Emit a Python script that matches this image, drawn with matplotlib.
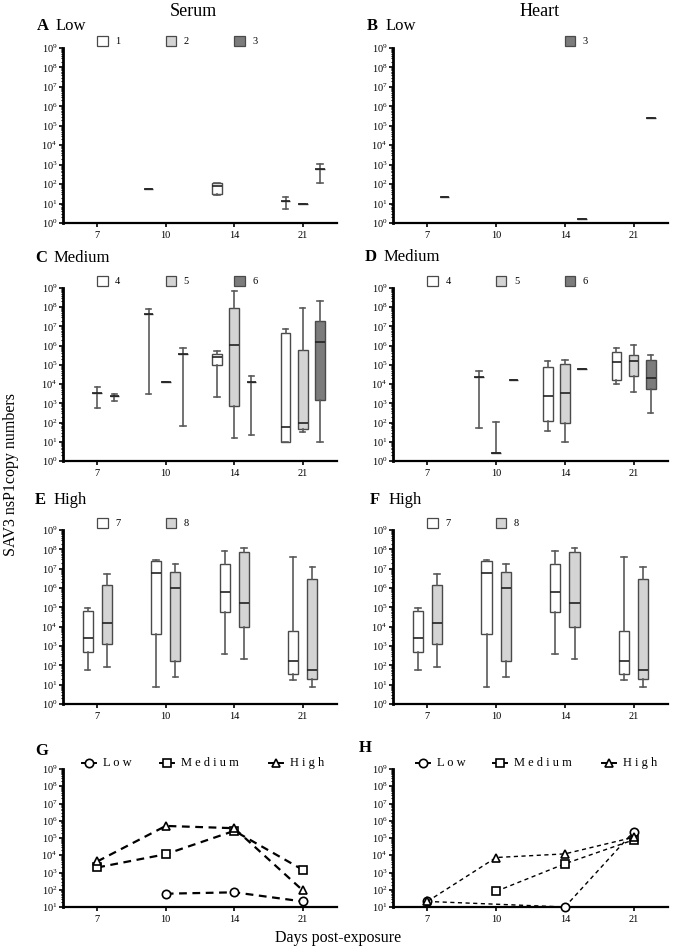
import numpy as np
import matplotlib
matplotlib.use("Agg")
import matplotlib.pyplot as plt
import matplotlib.transforms as mtransforms
from matplotlib.patches import Rectangle
from matplotlib.ticker import LogLocator, NullFormatter

plt.rcParams["font.family"] = ["Liberation Serif", "DejaVu Serif"]
plt.rcParams["mathtext.fontset"] = "stix"

days = ["7", "10", "14", "21"]

# box stats per group: (day index, whisker low, q1, median, q3, whisker high)
serum_low_1 = [(1, 59, 59, 59, 59, 59), (2, 26, 30, 81, 120, 120), (3, 5.5, 13, 13, 13, 22)]
serum_low_2 = [(3, 9.2, 9.2, 9.2, 9.2, 9.2)]
serum_low_3 = [(3, 117, 590, 590, 590, 1070)]

heart_low_3 = [(0, 21, 21, 21, 21, 21), (2, 1.7, 1.7, 1.7, 1.7, 1.7), (3, 2.4e5, 2.4e5, 2.4e5, 2.4e5, 2.4e5)]

serum_med_4 = [(1, 3040, 4.2e7, 4.2e7, 4.2e7, 8.3e7), (2, 2130, 9.4e4, 2.6e5, 3.8e5, 5.2e5),
               (3, 10, 10, 59, 4.7e6, 7e6)]
serum_med_5 = [(0, 570, 3560, 3560, 3560, 7000), (1, 1.3e4, 1.3e4, 1.3e4, 1.3e4, 1.3e4),
               (2, 15, 720, 1.1e6, 9e7, 7.4e8), (3, 31, 46, 98, 5.7e5, 9e7)]
serum_med_6 = [(0, 1320, 2400, 2400, 2400, 3040), (1, 63, 3.8e5, 3.8e5, 3.8e5, 7.8e5),
               (2, 23, 1.3e4, 1.3e4, 1.3e4, 2.5e4), (3, 9.3, 1550, 1.5e6, 2e7, 2.1e8)]

heart_med_4 = [(1, 50, 2.4e4, 2.4e4, 2.4e4, 4.6e4), (2, 36, 114, 2300, 7.4e4, 1.6e5),
               (3, 1.07e4, 1.7e4, 1.45e5, 4.6e5, 7.4e5)]
heart_med_5 = [(1, 2.7, 2.7, 2.7, 2.7, 102), (2, 10, 94, 3300, 1.1e5, 1.85e5),
               (3, 3700, 2.5e4, 1.6e5, 3.1e5, 1.05e6)]
heart_med_6 = [(1, 1.6e4, 1.6e4, 1.6e4, 1.6e4, 1.6e4), (2, 5.9e4, 5.9e4, 5.9e4, 5.9e4, 5.9e4),
               (3, 310, 5900, 2.2e4, 1.8e5, 3.2e5)]

serum_high_7 = [(0, 55, 510, 2700, 6.7e4, 9.6e4), (1, 7.3, 4000, 5.7e6, 2.6e7, 2.8e7),
                (2, 385, 5.5e4, 6.4e5, 1.8e7, 8.2e7), (3, 17, 34, 175, 5700, 4.2e7)]
serum_high_8 = [(0, 85, 1270, 1.5e4, 1.4e6, 5.3e6), (1, 25, 175, 1.05e6, 7e6, 1.7e7),
                (2, 210, 9300, 1.6e5, 7.3e7, 1.2e8), (3, 7.3, 19, 57, 2.9e6, 1.2e7)]
heart_high_7 = [(0, 55, 510, 2700, 6.7e4, 9.6e4), (1, 7.3, 4000, 5.7e6, 2.6e7, 2.8e7),
                (2, 385, 5.5e4, 6.4e5, 1.8e7, 8.2e7), (3, 17, 34, 175, 5700, 4.2e7)]
heart_high_8 = [(0, 85, 1270, 1.5e4, 1.4e6, 5.3e6), (1, 25, 175, 1.05e6, 7e6, 1.7e7),
                (2, 210, 9300, 1.6e5, 7.3e7, 1.2e8), (3, 7.3, 19, 57, 2.9e6, 1.2e7)]

# group means per day (nan = no value)
serum_mean_low = [np.nan, 59, 71, 21]
serum_mean_medium = [1950, 1.15e4, 2.6e5, 1440]
serum_mean_high = [4370, 5e5, 3.7e5, 92]
heart_mean_low = [21, np.nan, 10, 2.35e5]
heart_mean_medium = [np.nan, 81, 3200, 7.8e4]
heart_mean_high = [21, 7400, 1.2e4, 1.1e5]

group_colors = ["white", "#d4d4d4", "#7c7c7c"]
edge = "#4a4a4a"

W, H = 677, 950
fig = plt.figure(figsize=(W / 100, H / 100), dpi=100)


def px_axes(left, top, right, bottom):
    return fig.add_axes([left / W, 1 - bottom / H, (right - left) / W, (bottom - top) / H])


def style_axes(ax, ymin, ymax):
    ax.set_yscale("log")
    ax.set_ylim(ymin, ymax)
    ax.set_xlim(-0.5, 3.5)
    ax.set_xticks(range(len(days)))
    ax.set_xticklabels(days)
    ax.yaxis.set_major_locator(LogLocator(base=10, numticks=12))
    ax.yaxis.set_minor_locator(LogLocator(base=10, subs=np.arange(2, 10), numticks=12))
    ax.yaxis.set_minor_formatter(NullFormatter())
    for s in ("top", "right"):
        ax.spines[s].set_visible(False)
    ax.spines["left"].set_linewidth(2.0)
    ax.spines["bottom"].set_linewidth(1.6)
    ax.tick_params(axis="y", which="major", length=3, width=1.2, labelsize=7.5, pad=1)
    ax.tick_params(axis="y", which="minor", length=1.5, width=0.8)
    ax.tick_params(axis="x", length=3, width=1.2, labelsize=7.5, pad=3)
    ax.set_facecolor("none")


def draw_groups(ax, groups, offsets, width, legend_slots):
    for gi, (data, off) in enumerate(zip(groups, offsets)):
        if data is None:
            continue
        color = group_colors[gi]
        stats = [dict(whislo=d[1], q1=d[2], med=d[3], q3=d[4], whishi=d[5], fliers=[]) for d in data]
        pos = [d[0] + off for d in data]
        ax.bxp(stats, positions=pos, widths=width, patch_artist=True, showfliers=False,
               capwidths=width * 0.55, manage_ticks=False,
               boxprops=dict(facecolor=color, edgecolor=edge, linewidth=1.0),
               whiskerprops=dict(color="#5a5a5a", linewidth=1.2),
               capprops=dict(color="#5a5a5a", linewidth=1.2),
               medianprops=dict(color="#222222", linewidth=1.2))
    trans = mtransforms.blended_transform_factory(ax.transData, ax.transAxes)
    for gi, slot, lab in legend_slots:
        ax.add_patch(Rectangle((slot, 1.01), 0.15, 0.06, transform=trans, clip_on=False,
                               facecolor=group_colors[gi], edgecolor=edge, linewidth=0.9))
        ax.text(slot + 0.26, 1.04, lab, transform=trans, fontsize=7.5, ha="left", va="center")


def panel_label(x, y, letter, name):
    fig.text(x / W, 1 - y / H, letter, fontsize=12, fontweight="bold", ha="left", va="center")
    if name:
        fig.text((x + 19) / W, 1 - y / H, name, fontsize=12, ha="left", va="center")


box_offsets = [-0.25, 0.0, 0.25]
hi_offsets = [-0.14, 0.14]

# row 1: low
axA = px_axes(63, 48, 337, 223)
style_axes(axA, 1, 1e9)
draw_groups(axA, [serum_low_1, serum_low_2, serum_low_3], box_offsets, 0.14,
            [(0, 0.0, "1"), (1, 1.0, "2"), (2, 2.0, "3")])
axB = px_axes(393, 48, 668, 223)
style_axes(axB, 1, 1e9)
draw_groups(axB, [None, None, heart_low_3], box_offsets, 0.14, [(2, 2.0, "3")])

# row 2: medium
axC = px_axes(63, 288, 337, 461)
style_axes(axC, 1, 1e9)
draw_groups(axC, [serum_med_4, serum_med_5, serum_med_6], box_offsets, 0.14,
            [(0, 0.0, "4"), (1, 1.0, "5"), (2, 2.0, "6")])
axD = px_axes(393, 288, 668, 461)
style_axes(axD, 1, 1e9)
draw_groups(axD, [heart_med_4, heart_med_5, heart_med_6], box_offsets, 0.14,
            [(0, 0.0, "4"), (1, 1.0, "5"), (2, 2.0, "6")])

# row 3: high
axE = px_axes(63, 530, 337, 704)
style_axes(axE, 1, 1e9)
draw_groups(axE, [serum_high_7, serum_high_8], hi_offsets, 0.15, [(0, 0.0, "7"), (1, 1.0, "8")])
axF = px_axes(393, 530, 668, 704)
style_axes(axF, 1, 1e9)
draw_groups(axF, [heart_high_7, heart_high_8], hi_offsets, 0.15, [(0, 0.0, "7"), (1, 1.0, "8")])


# row 4: means
def draw_means(ax, series, lw, dashes, key_x):
    x = np.arange(len(days))
    for (name, vals, mk), kx in zip(series, key_x):
        v = np.array(vals, dtype=float)
        ok = ~np.isnan(v)
        ax.plot(x[ok], v[ok], color="black", linestyle=(0, dashes), linewidth=lw,
                marker=mk, markersize=6, markerfacecolor="white", markeredgecolor="black",
                markeredgewidth=1.2, clip_on=False, zorder=3)
        # key above the plot
        ax.plot([kx - 0.025, kx + 0.025], [1.045, 1.045], transform=ax.transAxes, color="black",
                linewidth=1.4, clip_on=False)
        ax.plot([kx], [1.045], transform=ax.transAxes, marker=mk, markersize=6,
                markerfacecolor="white", markeredgecolor="black", markeredgewidth=1.2,
                clip_on=False)
        ax.text(kx + 0.05, 1.045, name, transform=ax.transAxes, fontsize=9, ha="left",
                va="center")


axG = px_axes(63, 769, 337, 907)
style_axes(axG, 10, 1e9)
draw_means(axG, [("L o w", serum_mean_low, "o"), ("M e d i u m", serum_mean_medium, "s"),
                 ("H i g h", serum_mean_high, "^")], 1.6, (3.5, 2.5), [0.095, 0.38, 0.777])
axH = px_axes(393, 769, 668, 907)
style_axes(axH, 10, 1e9)
draw_means(axH, [("L o w", heart_mean_low, "o"), ("M e d i u m", heart_mean_medium, "s"),
                 ("H i g h", heart_mean_high, "^")], 1.0, (3, 2.5), [0.11, 0.39, 0.785])

panel_label(37, 26, "A", "Low")
panel_label(367, 26, "B", "Low")
panel_label(35, 258, "C", "Medium")
panel_label(365, 257, "D", "Medium")
panel_label(35, 500, "E", "High")
panel_label(370, 500, "F", "High")
panel_label(35, 751, "G", None)
panel_label(359, 748, "H", None)

fig.text(193 / W, 1 - 11 / H, "Serum", fontsize=13, ha="center", va="center")
fig.text(540 / W, 1 - 11 / H, "Heart", fontsize=13, ha="center", va="center")
fig.text(11 / W, 1 - 475 / H, "SAV3 nsP1copy numbers", fontsize=11.5, rotation=90,
         ha="center", va="center")
fig.text(338 / W, 1 - 938 / H, "Days post-exposure", fontsize=11.5, ha="center", va="center")

fig.savefig("out.png", dpi=100)
